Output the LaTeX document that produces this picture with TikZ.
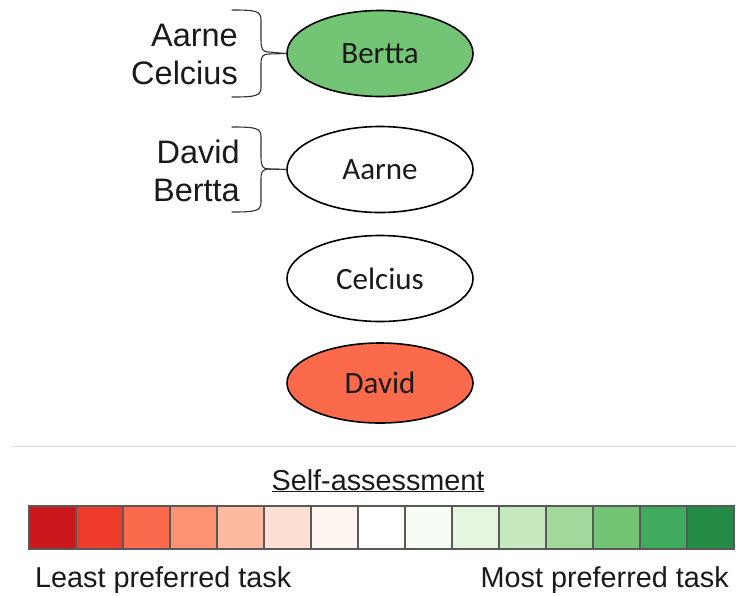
\documentclass[tikz,border=0pt]{standalone}
\usepackage{fontspec}
\setmainfont{Liberation Sans}
\newfontfamily\calfont{Carlito}
\usetikzlibrary{shapes.geometric}

% ColorBrewer Reds / Greens
\definecolor{r1}{HTML}{CB181D}
\definecolor{r2}{HTML}{EF3B2C}
\definecolor{r3}{HTML}{FB6A4A}
\definecolor{r4}{HTML}{FC9272}
\definecolor{r5}{HTML}{FCBBA1}
\definecolor{r6}{HTML}{FEE0D2}
\definecolor{r7}{HTML}{FFF5F0}
\definecolor{w0}{HTML}{FFFFFF}
\definecolor{g7}{HTML}{F7FCF5}
\definecolor{g6}{HTML}{E5F5E0}
\definecolor{g5}{HTML}{C7E9C0}
\definecolor{g4}{HTML}{A1D99B}
\definecolor{g3}{HTML}{74C476}
\definecolor{g2}{HTML}{41AB5D}
\definecolor{g1}{HTML}{238B45}
\definecolor{ink}{HTML}{1A1A1A}
\definecolor{rule}{HTML}{DDDDDD}

\tikzset{
  person/.style={ellipse, draw=black, line width=1.6pt, minimum width=186pt,
    minimum height=86pt, inner sep=0pt, font=\calfont\fontsize{31}{31}\selectfont, text=ink},
  peerlist/.style={anchor=east, align=right, inner sep=0pt,
    font=\fontsize{32.5}{38}\selectfont, text=ink},
  bracket/.style={draw=black!80, line width=1.1pt, line cap=round},
  cell/.style={draw=black!65, line width=1.1pt},
  caption/.style={inner sep=0pt, font=\fontsize{28.8}{29}\selectfont, text=ink},
}

\newcommand{\peerbrace}[3]{% top y, tip node, bottom y
  \draw[bracket] (232,#1) .. controls (256,#1) and (261,#1+1) .. (261,#1+10)
    -- (261,#1+30) .. controls (261,#1+40) and (263,#1+42) .. (269,#1+42)
    -- (#2.west);
  \draw[bracket] (232,#3) .. controls (256,#3) and (261,#3-1) .. (261,#3-10)
    -- (261,#3-33) .. controls (261,#3-41) and (263,#3-43) .. (269,#3-43)
    -- (#2.west);
}

\begin{document}
\begin{tikzpicture}[x=1pt, y=-1pt]
  \useasboundingbox (0,0) rectangle (736,595);

  % ranked tasks
  \node[person, fill=g3]  (bertta)  at (380,53.5)  {Bertta};
  \node[person, fill=white] (aarne)   at (380,169.5) {Aarne};
  \node[person, fill=white] (celcius) at (380,278.5) {Celcius};
  \node[person, fill=r3, minimum height=80pt] (david) at (380,383) {David};

  % peers who named the task
  \node[peerlist] (pb) at (238,54)  {Aarne\\Celcius};
  \node[peerlist] (pa) at (240,171) {David\\Bertta};
  \peerbrace{10}{bertta}{97}
  \peerbrace{127}{aarne}{212}

  % separator
  \draw[rule, line width=1pt] (11,446) -- (736,446);

  % legend
  \node[caption, anchor=base] (title) at (378,490) {\underline{Self-assessment}};
  \foreach \c [count=\i from 0] in {r1,r2,r3,r4,r5,r6,r7,w0,g7,g6,g5,g4,g3,g2,g1} {
    \draw[cell, fill=\c] (29+\i*47,506) rectangle (29+\i*47+47,549);
  }
  \node[caption, anchor=base west] (least) at (35,587) {Least preferred task};
  \node[caption, anchor=base east] (most)  at (729,587) {Most preferred task};
\end{tikzpicture}
\end{document}
